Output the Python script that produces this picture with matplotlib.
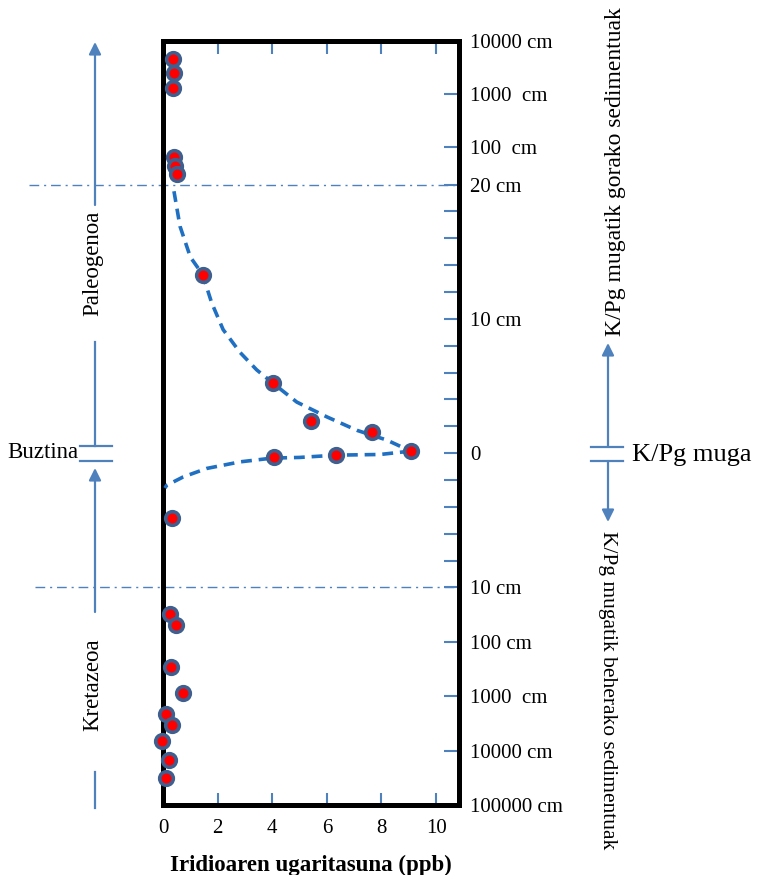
import numpy as np
import matplotlib
matplotlib.use("Agg")
import matplotlib.pyplot as plt
from matplotlib.patches import FancyArrowPatch
from matplotlib.lines import Line2D
import matplotlib.transforms as mtransforms

plt.rcParams['font.family'] = ['Liberation Serif', 'DejaVu Serif']

# Iridium measurements: position relative to the K/Pg boundary (cm, + above / - below)
position_cm = [4500, 2500, 1300, 67, 44, 32,
               13.3, 5.2, 2.4, 1.6, 0.15, -0.15, -0.3,
               -4.8, -31, -50, -290, -860, -2100, -3400, -6700, -15000, -32500]
iridium_ppb = [0.38, 0.41, 0.38, 0.41, 0.44, 0.52,
               1.45, 4.02, 5.41, 7.67, 9.07, 6.34, 4.07,
               0.32, 0.26, 0.48, 0.28, 0.74, 0.11, 0.34, -0.03, 0.20, 0.11]

# hand-drawn trend curves (above and below the boundary)
upper_curve_ppb = [0.40, 0.62, 1.0, 1.45, 1.78, 2.2, 2.82, 3.43, 4.03, 4.9, 6.0, 7.1, 8.2, 9.07]
upper_curve_cm = [19.5, 16.9, 14.6, 13.3, 11.2, 9.2, 7.5, 6.2, 5.2, 3.8, 2.7, 1.7, 0.97, 0.15]
lower_curve_ppb = [9.07, 7.95, 6.34, 5.0, 4.0, 2.82, 1.6, 0.74, 0.13, 0.07]
lower_curve_cm = [0.15, -0.1, -0.15, -0.32, -0.37, -0.65, -1.14, -1.77, -2.4, -2.6]

ytick_values = [10000, 1000, 100, 20, 18, 16, 14, 12, 10, 8, 6, 4, 2, 0,
                -2, -4, -6, -8, -10, -100, -1000, -10000, -100000]
ytick_labels = {10000: "10000 cm", 1000: "1000  cm", 100: "100  cm", 20: "20 cm",
                10: "10 cm", 0: "0", -10: "10 cm", -100: "100 cm",
                -1000: "1000  cm", -10000: "10000 cm", -100000: "100000 cm"}
xtick_values = [0, 2, 4, 6, 8, 10]

K_UP = 3.96   # scale units per decade above 20 cm
K_DN = 4.05   # scale units per decade below -10 cm


def fwd(y):
    y = np.asarray(y, dtype=float)
    with np.errstate(all='ignore'):
        up = 20 + K_UP * np.log10(y / 20)
        dn = -10 - K_DN * np.log10(-y / 10)
    return np.where(y > 20, up, np.where(y < -10, dn, y))


def inv(p):
    p = np.asarray(p, dtype=float)
    with np.errstate(all='ignore'):
        up = 20 * 10 ** ((p - 20) / K_UP)
        dn = -10 * 10 ** ((-10 - p) / K_DN)
    return np.where(p > 20, up, np.where(p < -10, dn, p))


W, H = 757, 875
fig = plt.figure(figsize=(W / 100, H / 100), dpi=100)
ax = fig.add_axes([162.5 / W, 1 - 805 / H, (459 - 162.5) / W, (805 - 41) / H])

ax.set_yscale('function', functions=(fwd, inv))
ax.set_ylim(-100000, 10000)
ax.set_xlim(-0.02, 10.84)

blue = '#4f81bd'
ax.plot(upper_curve_ppb, upper_curve_cm, color='#1f6fc2', lw=2.6,
        linestyle=(0, (3, 1.9)), zorder=3)
ax.plot(lower_curve_ppb, lower_curve_cm, color='#1f6fc2', lw=2.6,
        linestyle=(0, (3, 1.9)), zorder=3)
ax.plot(iridium_ppb, position_cm, 'o', ms=9.8, mfc='#ff0000', mec='#3f5f8f',
        mew=2.6, zorder=4, clip_on=False)

# dash-dot reference lines that run out past the left of the frame
trans = mtransforms.blended_transform_factory(ax.transAxes, ax.transData)
for yv, x0 in [(20, -0.45), (-10, -0.43)]:
    ax.plot([x0, 1.0], [yv, yv], transform=trans, color=blue, lw=1.0,
            linestyle=(0, (7, 3.5, 1.5, 3.5)), clip_on=False, zorder=2)

for s in ax.spines.values():
    s.set_linewidth(3.6)
    s.set_color('black')

ax.set_xticks(xtick_values)
ax.tick_params(axis='x', direction='in', length=9, width=1.5, color=blue,
               top=True, bottom=True, labelsize=15, pad=10)
ax.yaxis.tick_right()
ax.set_yticks(ytick_values)
ax.set_yticklabels([ytick_labels.get(v, "") for v in ytick_values])
ax.yaxis.set_minor_locator(matplotlib.ticker.NullLocator())
ax.xaxis.set_minor_locator(matplotlib.ticker.NullLocator())
ax.tick_params(axis='y', direction='in', length=11, width=1.5, color=blue,
               left=False, right=True, labelsize=15, pad=8)
ax.set_xlabel("Iridioaren ugaritasuna (ppb)", fontsize=16.5, fontweight='bold',
              labelpad=12)


def P(x, y):
    return (x / W, 1 - y / H)


def arrow(x, y0, y1):
    fig.add_artist(FancyArrowPatch(P(x, y0), P(x, y1), transform=fig.transFigure,
                                   arrowstyle='-|>', mutation_scale=18,
                                   color=blue, lw=1.6, shrinkA=0, shrinkB=0))


def seg(x0, y0, x1, y1):
    fig.add_artist(Line2D([x0 / W, x1 / W], [1 - y0 / H, 1 - y1 / H],
                          transform=fig.transFigure, color=blue, lw=1.6))


# left side: Paleogenoa / Buztina / Kretazeoa
arrow(95, 205, 42)
fig.text(*P(93, 263), "Paleogenoa", rotation=90, ha='center', va='center', fontsize=16.5)
seg(95, 342, 95, 446)
seg(80, 446, 112, 446)
seg(80, 461, 112, 461)
fig.text(*P(78, 453), "Buztina", ha='right', va='center', fontsize=16.5)
arrow(95, 612, 468)
fig.text(*P(93, 685), "Kretazeoa", rotation=90, ha='center', va='center', fontsize=16.5)
seg(95, 772, 95, 808)

# right side: K/Pg boundary
arrow(608, 447, 343)
seg(591, 447, 623, 447)
seg(591, 461, 623, 461)
arrow(608, 461, 522)
fig.text(*P(632, 455), "K/Pg muga", ha='left', va='center', fontsize=19)
fig.text(*P(615, 172), "K/Pg mugatik gorako sedimentuak", rotation=90,
         ha='center', va='center', fontsize=17)
fig.text(*P(608, 531), "K/Pg mugatik beherako sedimentuak", rotation=-90,
         ha='center', va='top', fontsize=15.5)

fig.savefig("out.png", dpi=100)
